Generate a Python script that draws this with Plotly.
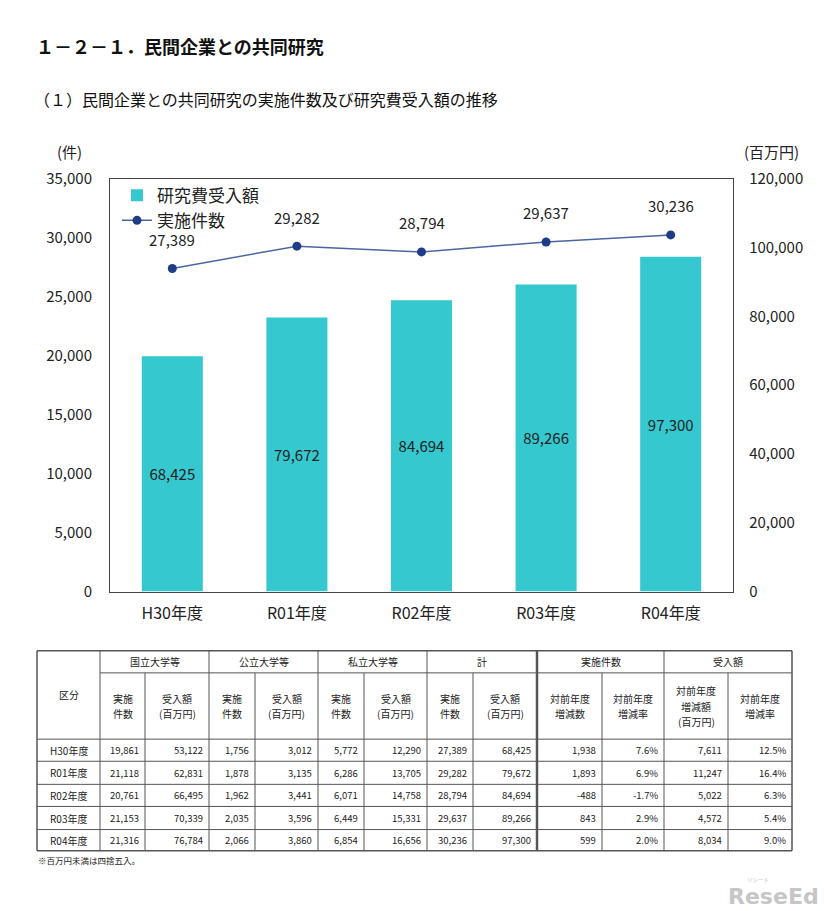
import plotly.graph_objects as go

# ---------------- data ----------------
years = ["H30年度", "R01年度", "R02年度", "R03年度", "R04年度"]
national_count = [19861, 21118, 20761, 21153, 21316]
national_amount = [53122, 62831, 66495, 70339, 76784]
public_count = [1756, 1878, 1962, 2035, 2066]
public_amount = [3012, 3135, 3441, 3596, 3860]
private_count = [5772, 6286, 6071, 6449, 6854]
private_amount = [12290, 13705, 14758, 15331, 16656]
total_count = [27389, 29282, 28794, 29637, 30236]
total_amount = [68425, 79672, 84694, 89266, 97300]
count_diff = [1938, 1893, -488, 843, 599]
count_rate = [7.6, 6.9, -1.7, 2.9, 2.0]
amount_diff = [7611, 11247, 5022, 4572, 8034]
amount_rate = [12.5, 16.4, 6.3, 5.4, 9.0]

left_ticks = [0, 5000, 10000, 15000, 20000, 25000, 30000, 35000]
right_ticks = [0, 20000, 40000, 60000, 80000, 100000, 120000]

W, H = 826, 923
OFF, K = 13, 0.973
FONT = "Noto Sans CJK JP, Liberation Sans, sans-serif"
BAR_COLOR = "#35C9CF"
LINE_COLOR = "#4A66A0"
MARK_COLOR = "#1F3C88"
TXT = "#222222"


def px(x):
    return x / W


def py(y):
    return 1 - ((y - OFF) / K) / H


def note(x, y, text, size, xanchor="center", yanchor="middle", color=TXT, family=FONT):
    return dict(x=px(x), y=py(y), xref="paper", yref="paper", text=text, showarrow=False,
                xanchor=xanchor, yanchor=yanchor,
                font=dict(size=size, color=color, family=family))


fig = go.Figure()

fig.add_trace(go.Bar(
    x=years, y=total_amount, name="研究費受入額", yaxis="y",
    marker=dict(color=BAR_COLOR, line=dict(width=0)), width=0.49,
    texttemplate="%{y:,}", textposition="inside", insidetextanchor="middle",
    textfont=dict(size=15, color=TXT, family=FONT), cliponaxis=False,
))
fig.add_trace(go.Scatter(
    x=years, y=total_count, name="実施件数", yaxis="y2", mode="lines+markers",
    line=dict(color=LINE_COLOR, width=1.5),
    marker=dict(color=MARK_COLOR, size=9),
))

annotations = []
for yr, v in zip(years, total_count):
    annotations.append(dict(x=yr, y=v, xref="x", yref="y2", text=f"{v:,}",
                            showarrow=False, yshift=29, xanchor="center", yanchor="middle",
                            font=dict(size=15, color=TXT, family=FONT)))

# titles
annotations.append(note(34, 47, "<b>１－２－１．民間企業との共同研究</b>", 18, "left", color="#111"))
annotations.append(note(32, 100, "（１）民間企業との共同研究の実施件数及び研究費受入額の推移", 16, "left", color="#111"))
annotations.append(note(69, 152, "(件)", 15))
annotations.append(note(771, 152, "(百万円)", 15))

# ---------------- table ----------------
col_edges = [37, 100, 145, 209, 255, 318, 364, 427, 473, 537, 602, 664, 728, 792]
group_edges = [100, 209, 318, 427, 537, 664, 792]
group_titles = ["国立大学等", "公立大学等", "私立大学等", "計", "実施件数", "受入額"]
sub_titles = [["実施", "件数"], ["受入額", "(百万円)"]] * 4 + [
    ["対前年度", "増減数"], ["対前年度", "増減率"], ["対前年度", "増減額", "(百万円)"], ["対前年度", "増減率"]]
row_edges = [649, 671, 737, 759, 782, 804, 827, 848]
LC = "#555555"
TF = 10
LINE_GAP = 15.5

shapes = []


def hline(x0, x1, y, w=1):
    shapes.append(dict(type="line", xref="paper", yref="paper", x0=px(x0), x1=px(x1),
                       y0=py(y), y1=py(y), line=dict(color=LC, width=w)))


def vline(x, y0, y1, w=1):
    shapes.append(dict(type="line", xref="paper", yref="paper", x0=px(x), x1=px(x),
                       y0=py(y0), y1=py(y1), line=dict(color=LC, width=w)))


hline(col_edges[0], col_edges[-1], row_edges[0], 1.5)
hline(col_edges[0], col_edges[-1], row_edges[-1], 1.5)
vline(col_edges[0], row_edges[0], row_edges[-1], 1.5)
vline(col_edges[-1], row_edges[0], row_edges[-1], 1.5)
hline(group_edges[0], col_edges[-1], row_edges[1])
for y in row_edges[2:-1]:
    hline(col_edges[0], col_edges[-1], y)
for x in group_edges[:-1]:
    vline(x, row_edges[0], row_edges[-1], 2.5 if x == 537 else 1)
for x in col_edges[1:-1]:
    if x not in group_edges:
        vline(x, row_edges[1], row_edges[-1])

annotations.append(note((col_edges[0] + col_edges[1]) / 2, (row_edges[0] + row_edges[2]) / 2, "区分", TF))
for i, t in enumerate(group_titles):
    annotations.append(note((group_edges[i] + group_edges[i + 1]) / 2,
                            (row_edges[0] + row_edges[1]) / 2, t, TF))
mid_h = (row_edges[1] + row_edges[2]) / 2
for i, lines in enumerate(sub_titles):
    xc = (col_edges[i + 1] + col_edges[i + 2]) / 2
    n = len(lines)
    for j, ln in enumerate(lines):
        yy = mid_h + (j - (n - 1) / 2) * LINE_GAP
        annotations.append(note(xc, yy, ln, TF))

columns = [
    [f"{v:,}" for v in national_count], [f"{v:,}" for v in national_amount],
    [f"{v:,}" for v in public_count], [f"{v:,}" for v in public_amount],
    [f"{v:,}" for v in private_count], [f"{v:,}" for v in private_amount],
    [f"{v:,}" for v in total_count], [f"{v:,}" for v in total_amount],
    [f"{v:,}" for v in count_diff], [f"{v:.1f}%" for v in count_rate],
    [f"{v:,}" for v in amount_diff], [f"{v:.1f}%" for v in amount_rate],
]
for r, yr in enumerate(years):
    yc = (row_edges[r + 2] + row_edges[r + 3]) / 2
    annotations.append(note((col_edges[0] + col_edges[1]) / 2, yc, yr, TF))
    for c, col in enumerate(columns):
        annotations.append(note(col_edges[c + 2] - 4, yc, col[r], 9.5, "right"))

annotations.append(note(36, 857, "※百万円未満は四捨五入。", 8.5, "left"))

# watermark
annotations.append(note(821, 894, "<b>ReseEd</b>", 22, "right", color="#c6c6c6", family="DejaVu Sans"))
annotations.append(note(758, 877, "リシード", 5.5, color="#c6c6c6"))

fig.update_layout(
    width=W, height=H,
    margin=dict(l=0, r=0, t=0, b=0),
    paper_bgcolor="white", plot_bgcolor="white",
    font=dict(family=FONT, color=TXT),
    showlegend=True,
    legend=dict(x=px(117), y=py(178), xanchor="left", yanchor="top",
                bgcolor="rgba(0,0,0,0)", font=dict(size=17, color=TXT, family=FONT),
                traceorder="normal", tracegroupgap=0, itemwidth=30),
    xaxis=dict(domain=[px(110), px(733)], range=[-0.5, 4.5], showgrid=False,
               showline=True, mirror=True, linecolor="#444", linewidth=1.3,
               ticks="", ticklabelstandoff=7,
               tickfont=dict(size=16, color=TXT, family=FONT)),
    yaxis=dict(domain=[py(590), py(179)], range=[0, 120000], side="right",
               tickvals=right_ticks, tickformat=",d", showgrid=False, zeroline=False,
               showline=True, mirror=True, linecolor="#444", linewidth=1.3,
               ticks="", ticklabelstandoff=12,
               tickfont=dict(size=15, color=TXT, family=FONT)),
    yaxis2=dict(overlaying="y", side="left", range=[0, 35000],
                tickvals=left_ticks, tickformat=",d", showgrid=False, zeroline=False,
                showline=False, ticks="", ticklabelstandoff=17,
                tickfont=dict(size=15, color=TXT, family=FONT)),
    annotations=annotations,
    shapes=shapes,
    bargap=0.5,
)

fig.write_html("out.html", config={"displayModeBar": False},
               post_script="document.body.style.margin='0';document.body.style.overflow='hidden';")
